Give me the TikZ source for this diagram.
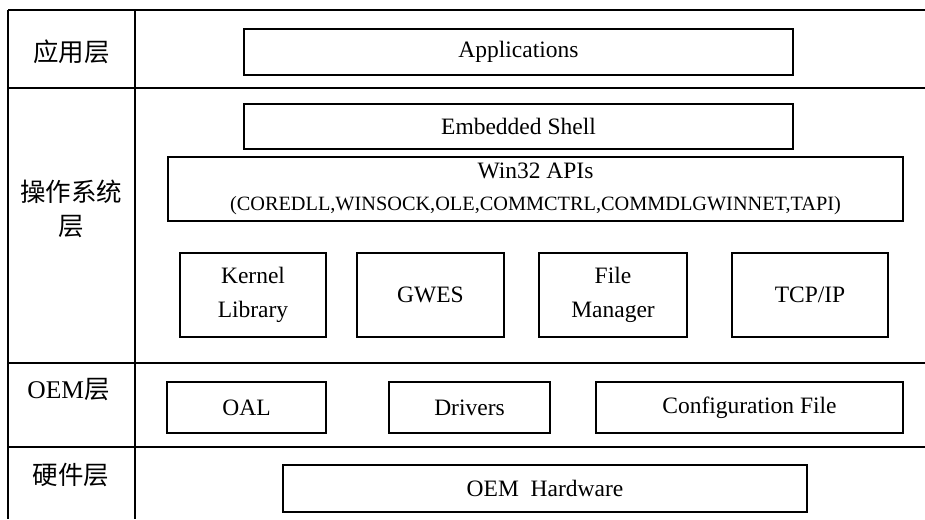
\documentclass[tikz,border=0pt]{standalone}
\usepackage{fontspec}
\setmainfont{Liberation Serif}
\newfontfamily\cjk{Noto Sans CJK SC}
\begin{document}
\begin{tikzpicture}[x=1pt,y=-1pt,
  grid/.style={line width=1.8pt},
  layerbox/.style={draw,line width=2.2pt,rectangle,inner sep=0pt,align=center,
    font=\fontsize{23.5}{34}\selectfont},
  layertag/.style={inner sep=0pt,align=center,font=\cjk\fontsize{25.5}{34}\selectfont}]
\useasboundingbox (0,0) rectangle (925,519);

% table frame, open on the right and at the bottom
\coordinate (tl) at (8,10);
\coordinate (tm) at (135,10);
\coordinate (tr) at (925,10);
\coordinate (bl) at (8,519);
\coordinate (bm) at (135,519);
\draw[grid] (tl) -- (tr);
\draw[grid] (tl) -- (bl);
\draw[grid] (tm) -- (bm);
\foreach \y [count=\i] in {88,363,447}{
  \coordinate (rl\i) at (8,\y);
  \coordinate (rr\i) at (925,\y);
  \draw[grid] (rl\i) -- (rr\i);
}

% layer names
\node[layertag] (tagapp) at (71.5,52) {应用层};
\node[layertag] (tagos) at (71,209) {操作系统\\层};
\node[layertag] (tagoem) at (68.5,390) {\fontspec{Liberation Serif}OEM\cjk 层};
\node[layertag] (taghw) at (71,475) {硬件层};

% application layer
\node[layerbox,minimum width=549pt,minimum height=46pt] (app) at (518.5,52) {Applications};

% operating system layer
\node[layerbox,minimum width=549pt,minimum height=45pt] (shell) at (518.5,126.5) {Embedded Shell};
\node[layerbox,minimum width=735pt,minimum height=64pt] (win32) at (535.5,189)
  {Win32 APIs\\[-2pt]{\fontsize{20.3}{28}\selectfont (COREDLL,WINSOCK,OLE,COMMCTRL,COMMDLGWINNET,TAPI)}};
\node[layerbox,minimum width=146pt,minimum height=84pt] (kernel) at (253,295) {Kernel\\Library};
\node[layerbox,minimum width=147pt,minimum height=84pt] (gwes) at (430.5,295) {GWES};
\node[layerbox,minimum width=148pt,minimum height=84pt] (filemgr) at (613,295) {File\\Manager};
\node[layerbox,minimum width=156pt,minimum height=84pt] (tcpip) at (810,295) {TCP/IP};

% OEM layer
\node[layerbox,minimum width=159pt,minimum height=51pt] (oal) at (246.5,407.5) {OAL};
\node[layerbox,minimum width=161pt,minimum height=51pt] (drivers) at (469.5,407.5) {Drivers};
\node[layerbox,minimum width=307pt,minimum height=51pt] (config) at (749.5,407.5) {Configuration File};

% hardware layer
\node[layerbox,minimum width=524pt,minimum height=47pt] (hw) at (545,488.5) {OEM\ \ Hardware};
\end{tikzpicture}
\end{document}
